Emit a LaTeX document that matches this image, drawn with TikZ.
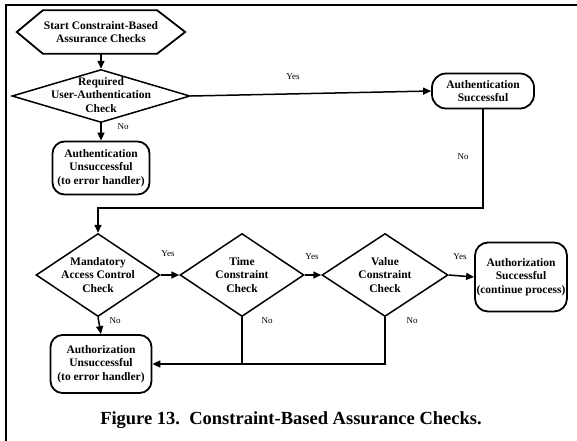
\documentclass[tikz,border=0pt]{standalone}
\usepackage{fontspec}
\setmainfont{Liberation Serif}
\usetikzlibrary{shapes.geometric,arrows.meta}
\tikzset{
  box/.style={draw, line width=1.8pt, rounded corners=12pt, inner sep=0pt, align=center},
  dia/.style={draw, shape=diamond, line width=1.5pt, inner sep=0pt},
  txt/.style={font=\fontsize{11.5}{13.5}\selectfont\bfseries, align=center, inner sep=0pt},
  lab/.style={font=\fontsize{9}{10}\selectfont, inner sep=0pt},
  conn/.style={line width=1.5pt},
  arr/.style={conn, -{Triangle[length=8pt,width=7pt]}},
}
\begin{document}
\begin{tikzpicture}[x=1pt,y=-1pt]
\useasboundingbox (0,0) rectangle (577,440);
% frame
\draw[line width=2pt] (6,441) -- (6,5) -- (578,5);
% start hexagon
\node[txt, minimum width=168pt, minimum height=43pt] (start) at (101,32) {Start Constraint-Based\\Assurance Checks};
\draw[line width=1.8pt] (start.west) -- ([xshift=26pt]start.north west) -- ([xshift=-28pt]start.north east) -- (start.east) -- ([xshift=-28pt]start.south east) -- ([xshift=26pt]start.south west) -- cycle;
% diamonds
\node[dia, minimum width=178pt, minimum height=53pt] (d1) at (101,96) {};
\node[txt] (d1t) at ([yshift=1pt]d1) {Required\\User-Authentication\\Check};
\node[dia, minimum width=124pt, minimum height=83pt] (d2) at (98,275) {};
\node[txt] (d2t) at (d2) {Mandatory\\Access Control\\Check};
\node[dia, minimum width=124pt, minimum height=83pt] (d3) at (242,275) {};
\node[txt] (d3t) at (d3) {Time\\Constraint\\Check};
\node[dia, minimum width=126pt, minimum height=83pt] (d4) at (385,275) {};
\node[txt] (d4t) at (d4) {Value\\Constraint\\Check};
% terminal boxes
\node[box, txt, minimum width=97pt, minimum height=53pt] (aufail) at (101,168) {Authentication\\Unsuccessful\\(to error handler)};
\node[box, txt, minimum width=102pt, minimum height=35pt, rounded corners=14pt] (ausucc) at (483,91) {Authentication\\Successful};
\node[box, txt, minimum width=92pt, minimum height=69pt, rounded corners=13pt] (azsucc) at (521,277) {Authorization\\Successful\\(continue process)};
\node[box, txt, minimum width=101pt, minimum height=58pt] (azfail) at (101,364) {Authorization\\Unsuccessful\\(to error handler)};
% connectors
\draw[arr] (start.south) -- (d1.north);
\draw[arr] (d1.south) -- (aufail.north);
\draw[arr] (d1.east) -- (ausucc.west);
\coordinate (c1) at (483,208);
\coordinate (c2) at (98,208);
\draw[arr] (ausucc.south) -- (c1) -- (c2) -- (d2.north);
\draw[arr] (d2.east) -- (d3.west);
\draw[arr] (d3.east) -- (d4.west);
\draw[arr] (d4.east) -- (azsucc.west);
\draw[arr] (d2.south) -- (azfail.north);
\draw[conn] (d3.south) -- (d3.south |- azfail.east);
\draw[arr] (d4.south) |- (azfail.east);
% labels
\node[lab] (l1) at (123,127) {No};
\node[lab] (l2) at (293,77) {Yes};
\node[lab] (l3) at (463,157) {No};
\node[lab] (l4) at (168,254) {Yes};
\node[lab] (l5) at (312,257) {Yes};
\node[lab] (l6) at (460,257) {Yes};
\node[lab] (l7) at (115,321) {No};
\node[lab] (l8) at (267,321) {No};
\node[lab] (l9) at (412,321) {No};
% caption
\node[font=\fontsize{18.5}{20}\selectfont\bfseries, inner sep=0pt] (cap) at (291,420) {Figure 13.\ \ Constraint-Based Assurance Checks.};
\end{tikzpicture}
\end{document}
